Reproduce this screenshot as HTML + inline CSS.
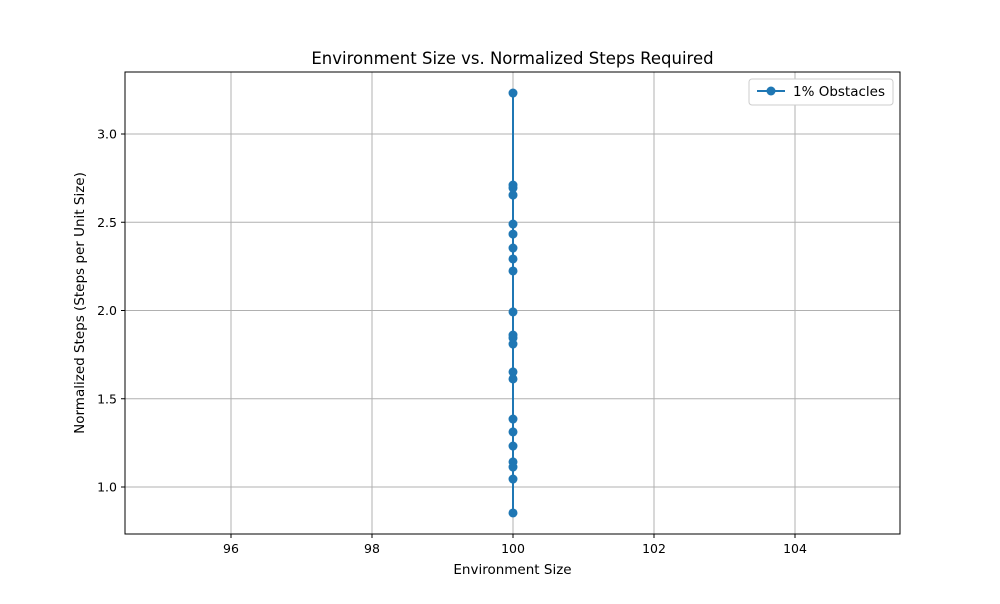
<!DOCTYPE html>
<html><head><meta charset="utf-8"><style>
body{margin:0;background:#fff;font-family:"DejaVu Sans","Liberation Sans",sans-serif}
</style></head><body>
<svg id="chart" width="1000" height="600" xmlns="http://www.w3.org/2000/svg" font-family="DejaVu Sans, Liberation Sans, sans-serif">
<rect width="1000" height="600" fill="#fff"/>
<text x="512.5" y="64" text-anchor="middle" font-size="16.5">Environment Size vs. Normalized Steps Required</text>
<g id="grid"></g><g id="ticks"></g><g id="series"></g>
<rect x="125" y="72" width="775" height="462" fill="none" stroke="#000" stroke-width="1"/>
<text x="512.5" y="574" text-anchor="middle" font-size="13.5">Environment Size</text>
<text transform="translate(84,303) rotate(-90)" text-anchor="middle" font-size="13.5">Normalized Steps (Steps per Unit Size)</text>
<g>
<rect x="749" y="79" width="144" height="26" rx="3" fill="#fff" stroke="#ccc"/>
<line x1="757" y1="91" x2="785" y2="91" stroke="#1f77b4" stroke-width="2"/>
<circle cx="771" cy="91" r="4.5" fill="#1f77b4"/>
<text x="793" y="96" font-size="13.5">1% Obstacles</text>
</g>
</svg>
<script>
const xTicks=[96,98,100,102,104];
const yTicks=[1.0,1.5,2.0,2.5,3.0];
const sizes=[100,100,100,100,100,100,100,100,100,100,100,100,100,100,100,100,100,100,100,100,100,100];
const steps=[3.232,2.711,2.694,2.654,2.490,2.433,2.354,2.292,2.224,1.992,1.861,1.844,1.810,1.652,1.612,1.385,1.312,1.232,1.142,1.113,1.045,0.853];
const NS="http://www.w3.org/2000/svg";
const xs=v=>513+(v-100)*70.5;
const ys=v=>487-(v-1)*176.5;
function mk(t,a,p){const e=document.createElementNS(NS,t);for(const k in a)e.setAttribute(k,a[k]);p.appendChild(e);return e;}
const g=document.getElementById('grid'),tk=document.getElementById('ticks'),s=document.getElementById('series');
xTicks.forEach(v=>{const x=xs(v);
const l=mk('line',{x1:x,x2:x,y1:72,y2:534,stroke:'#b0b0b0','stroke-width':1},g);


mk('line',{x1:x,x2:x,y1:534,y2:538,stroke:'#000'},tk);
const t=mk('text',{x:x,y:553,'text-anchor':'middle','font-size':12.5},tk);t.textContent=v;

});
yTicks.forEach(v=>{const y=ys(v);
const l=mk('line',{x1:125,x2:900,y1:y,y2:y,stroke:'#b0b0b0','stroke-width':1},g);


mk('line',{x1:121,x2:125,y1:y,y2:y,stroke:'#000'},tk);
const t=mk('text',{x:117,y:y+4.5,'text-anchor':'end','font-size':12.5},tk);t.textContent=v.toFixed(1);

});
const pts=steps.map((v,i)=>xs(sizes[i])+','+ys(v)).join(' ');
const pl=mk('polyline',{points:pts,fill:'none',stroke:'#1f77b4','stroke-width':2},s);


steps.forEach((v,i)=>{const c=mk('circle',{cx:xs(sizes[i]),cy:ys(v),r:4.5,fill:'#1f77b4'},s);

});
</script>
</body></html>
